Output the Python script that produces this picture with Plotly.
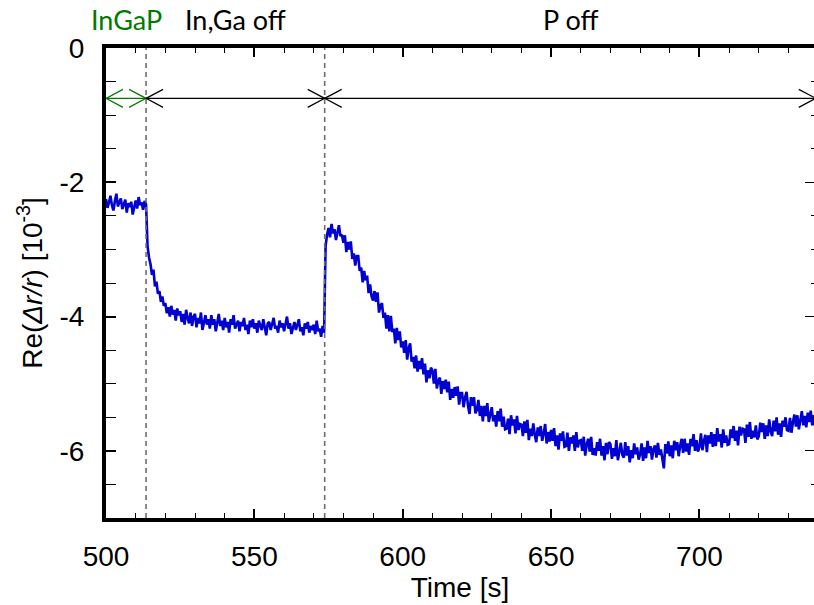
import plotly.graph_objects as go

t_start = 500
t_step = 0.5
re_dr = [
    -2.25, -2.38, -2.30, -2.20, -2.34, -2.42, -2.28, -2.17, -2.36, -2.30,
    -2.24, -2.40, -2.33, -2.26, -2.45, -2.31, -2.37, -2.29, -2.48, -2.35,
    -2.27, -2.39, -2.22, -2.34, -2.30, -2.41, -2.28, -2.33, -2.95, -3.12,
    -3.22, -3.38, -3.30, -3.55, -3.48, -3.66, -3.62, -3.78, -3.70, -3.84,
    -3.80, -3.95, -3.86, -4.00, -3.84, -3.97, -3.90, -4.06, -3.88, -3.98,
    -3.92, -4.08, -3.96, -4.12, -3.90, -4.02, -4.10, -3.94, -4.14, -4.00,
    -3.96, -4.16, -4.02, -4.10, -3.94, -4.20, -4.06, -3.98, -4.12, -4.04,
    -4.18, -3.98, -4.12, -4.04, -4.22, -4.08, -3.96, -4.14, -4.06, -4.20,
    -4.02, -4.16, -4.08, -4.24, -4.04, -4.12, -3.98, -4.18, -4.10, -4.06,
    -4.22, -4.08, -4.14, -4.02, -4.20, -4.12, -4.26, -4.06, -4.16, -4.04,
    -4.18, -4.10, -4.24, -4.06, -4.14, -4.20, -4.04, -4.16, -4.28, -4.10,
    -4.08, -4.20, -4.12, -4.02, -4.18, -4.14, -4.24, -4.06, -4.16, -4.10,
    -4.22, -4.12, -4.00, -4.18, -4.10, -4.26, -4.14, -4.08, -4.20, -4.12,
    -4.04, -4.22, -4.16, -4.28, -4.10, -4.18, -4.08, -4.24, -4.14, -4.20,
    -4.12, -4.26, -4.06, -4.22, -4.18, -4.30, -4.14, -4.24, -2.95, -2.78,
    -2.68, -2.82, -2.62, -2.76, -2.70, -2.86, -2.72, -2.64, -2.80, -2.78,
    -2.90, -2.79, -3.04, -2.89, -3.00, -2.88, -3.14, -3.06, -3.24, -3.10,
    -3.10, -3.32, -3.27, -3.49, -3.32, -3.46, -3.39, -3.65, -3.52, -3.70,
    -3.76, -3.62, -3.78, -3.64, -3.94, -3.84, -3.80, -4.02, -3.94, -4.18,
    -3.98, -4.22, -3.99, -4.23, -4.18, -4.40, -4.17, -4.35, -4.22, -4.46,
    -4.37, -4.54, -4.35, -4.64, -4.47, -4.40, -4.67, -4.60, -4.77, -4.58,
    -4.82, -4.66, -4.78, -4.62, -4.86, -4.70, -4.98, -4.80, -4.92, -4.76,
    -4.80, -5.00, -4.78, -5.07, -4.95, -4.91, -5.15, -4.96, -5.08, -4.94,
    -5.13, -4.97, -5.24, -5.08, -5.21, -5.05, -5.18, -5.04, -5.31, -5.14,
    -5.14, -5.35, -5.21, -5.12, -5.33, -5.45, -5.20, -5.33, -5.20, -5.44,
    -5.39, -5.24, -5.48, -5.33, -5.56, -5.33, -5.48, -5.29, -5.57, -5.44,
    -5.35, -5.56, -5.47, -5.64, -5.41, -5.56, -5.37, -5.64, -5.49, -5.68,
    -5.67, -5.52, -5.75, -5.47, -5.62, -5.53, -5.74, -5.48, -5.69, -5.60,
    -5.61, -5.78, -5.56, -5.73, -5.54, -5.84, -5.67, -5.78, -5.59, -5.76,
    -5.87, -5.65, -5.78, -5.63, -5.85, -5.74, -5.60, -5.89, -5.72, -5.86,
    -5.69, -5.85, -5.66, -5.93, -5.77, -5.98, -5.74, -5.85, -5.71, -5.94,
    -5.93, -5.73, -6.00, -5.80, -5.89, -5.77, -6.00, -5.72, -5.95, -5.85,
    -5.84, -6.00, -5.79, -6.07, -5.90, -5.82, -6.01, -5.79, -6.06, -5.96,
    -6.07, -5.87, -6.00, -5.82, -6.07, -5.93, -6.14, -5.88, -6.05, -5.87,
    -5.90, -6.12, -5.96, -6.08, -5.84, -6.14, -5.98, -5.88, -6.06, -6.10,
    -5.87, -6.07, -5.93, -6.17, -5.99, -6.11, -5.89, -6.05, -5.95, -6.13,
    -6.05, -5.89, -6.15, -5.95, -6.11, -5.85, -6.03, -5.93, -6.13, -5.97,
    -5.92, -6.10, -5.88, -6.06, -5.98, -6.14, -6.26, -5.90, -6.04, -5.86,
    -6.08, -5.92, -6.11, -5.85, -5.99, -5.87, -6.08, -5.92, -5.82, -6.03,
    -5.82, -6.01, -5.89, -6.06, -5.82, -5.93, -5.75, -6.00, -5.84, -6.01,
    -5.94, -5.74, -5.99, -5.85, -5.76, -6.02, -5.77, -5.89, -5.72, -5.94,
    -5.75, -5.93, -5.66, -5.86, -5.75, -5.95, -5.68, -5.88, -5.77, -5.91,
    -5.90, -5.68, -5.81, -5.63, -5.85, -5.70, -5.92, -5.64, -5.77, -5.67,
    -5.68, -5.88, -5.61, -5.79, -5.57, -5.82, -5.70, -5.80, -5.62, -5.83,
    -5.78, -5.58, -5.72, -5.59, -5.82, -5.62, -5.78, -5.53, -5.71, -5.78,
    -5.55, -5.71, -5.50, -5.76, -5.59, -5.79, -5.55, -5.64, -5.50, -5.69,
    -5.70, -5.51, -5.73, -5.57, -5.46, -5.64, -5.47, -5.68, -5.52, -5.41,
    -5.62, -5.48, -5.65, -5.43, -5.57, -5.40, -5.62, -5.47, -5.64, -5.42,
]
time_s = [t_start + t_step * i for i in range(len(re_dr))]

event_times = [513.5, 573.7]          # dashed markers
segment_bounds = [500, 513.5, 573.7, 739.2]
segment_labels = ["InGaP", "In,Ga off", "P off"]
segment_colors = ["#007a00", "black", "black"]
arrow_level = -0.75
x_range = [500, 738.6]
y_range = [-7, 0]
x_tickvals = [500, 550, 600, 650, 700]
x_ticktext = ["500", "550", "600", "650", "700"]
y_tickvals = [0, -2, -4, -6]
y_ticktext = ["0", "-2", "-4", "-6"]

# ---- layout geometry ----
W, H = 814, 605
ML, MR, MT, MB = 106, 0, 48, 87
plot_w = W - ML - MR
plot_h = H - MT - MB
px_per_x = plot_w / (x_range[1] - x_range[0])
px_per_y = plot_h / (y_range[1] - y_range[0])
head_dx = 17 / px_per_x
head_dy = 9 / px_per_y

fig = go.Figure()
fig.add_trace(go.Scatter(x=time_s, y=re_dr, mode="lines",
                         line=dict(color="#0000d2", width=2.6),
                         showlegend=False, hoverinfo="skip"))
fig.add_trace(go.Scatter(x=[], y=[], yaxis="y2", showlegend=False))

shapes = []
for et in event_times:
    shapes.append(dict(type="line", xref="x", yref="y", x0=et, x1=et,
                       y0=y_range[0], y1=y_range[1],
                       line=dict(color="#6e6e6e", width=1.6, dash="5px,4px")))

annotations = []
for i, lab in enumerate(segment_labels):
    a, b = segment_bounds[i], segment_bounds[i + 1]
    col = segment_colors[i]
    shapes.append(dict(type="line", xref="x", yref="y", x0=a, x1=b,
                       y0=arrow_level, y1=arrow_level,
                       line=dict(color=col, width=1.2)))
    shapes.append(dict(type="path", xref="x", yref="y",
                       path=f"M {a+head_dx},{arrow_level+head_dy} L {a},{arrow_level} L {a+head_dx},{arrow_level-head_dy}",
                       line=dict(color=col, width=1.2)))
    shapes.append(dict(type="path", xref="x", yref="y",
                       path=f"M {b-head_dx},{arrow_level+head_dy} L {b},{arrow_level} L {b-head_dx},{arrow_level-head_dy}",
                       line=dict(color=col, width=1.2)))
    annotations.append(dict(x=(a + b) / 2, y=1 + 29 / plot_h, xref="x", yref="paper",
                            text=lab, showarrow=False, xanchor="center", yanchor="middle",
                            font=dict(family="Lato, Open Sans, sans-serif", size=27, color=col)))

tickfont = dict(family="Liberation Sans, Arial, sans-serif", size=28, color="black")

fig.update_layout(
    width=W, height=H,
    margin=dict(l=ML, r=MR, t=MT, b=MB, pad=0),
    paper_bgcolor="white", plot_bgcolor="white",
    shapes=shapes, annotations=annotations,
    xaxis=dict(range=x_range, showgrid=False, zeroline=False,
               showline=True, linecolor="black", linewidth=4, mirror="ticks",
               ticks="inside", ticklen=9, tickwidth=1.5, tickcolor="black",
               tickmode="array", tickvals=x_tickvals, ticktext=x_ticktext,
               tickfont=tickfont, ticklabelstandoff=10,
               minor=dict(dtick=10, tick0=500, ticks="inside", ticklen=5,
                          tickwidth=1.2, tickcolor="black", showgrid=False),
               title=dict(text="Time [s]", font=tickfont, standoff=2)),
    yaxis=dict(range=y_range, showgrid=False, zeroline=False,
               showline=True, linecolor="black", linewidth=4, mirror=False,
               ticks="inside", ticklen=10, tickwidth=1.5, tickcolor="black",
               tickmode="array", tickvals=y_tickvals, ticktext=y_ticktext,
               tickfont=tickfont, ticklabelstandoff=12,
               minor=dict(dtick=0.5, tick0=0, ticks="inside", ticklen=10,
                          tickwidth=1.2, tickcolor="black", showgrid=False),
               title=dict(text="Re(<i>Δr/r</i>) [10<sup>-3</sup>]", font=tickfont, standoff=10)),
    yaxis2=dict(range=y_range, overlaying="y", side="right", matches="y",
                showgrid=False, zeroline=False, showline=False,
                ticks="inside", ticklen=9, tickwidth=1.2, tickcolor="black",
                tickmode="array", tickvals=y_tickvals, showticklabels=False,
                minor=dict(dtick=0.5, tick0=0, ticks="inside", ticklen=3,
                           tickwidth=1.2, tickcolor="black", showgrid=False)),
)

fig.write_html("out.html")
